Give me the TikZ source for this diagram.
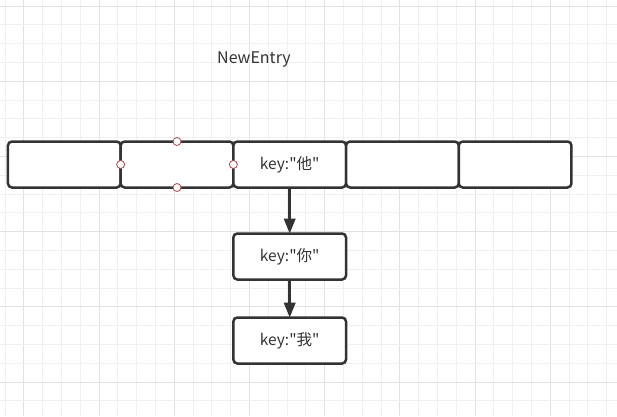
\documentclass[tikz,border=0pt]{standalone}
\usepackage{fontspec}
\newfontfamily\labelfont{Noto Sans CJK SC}
\usetikzlibrary{arrows.meta,positioning}
\definecolor{gridminor}{HTML}{F0F0F0}
\definecolor{gridmajor}{HTML}{E2E2E2}
\definecolor{ink}{HTML}{333333}
\definecolor{handle}{HTML}{B04848}
\begin{document}
\begin{tikzpicture}[
      x=1pt,y=-1pt,
      node distance=0pt,
      cell/.style={rectangle,rounded corners=4pt,draw=ink,line width=2.5pt,fill=white,
        minimum width=112.7pt,minimum height=46pt,outer sep=0pt,text=ink,
        font=\labelfont\fontsize{15.5}{18}\selectfont},
      link/.style={-{Triangle[length=15pt,width=11.5pt]},draw=ink,line width=2.6pt},
      grip/.style={circle,draw=handle,fill=white,line width=0.8pt,minimum size=8pt,inner sep=0pt},
      >=Latex
    ]
    \useasboundingbox (0,0) rectangle (617,416);
    \fill[white] (0,0) rectangle (617,416);
    % Background grid
    \foreach \k in {0,...,32} {
      \pgfmathsetmacro{\gx}{5+18.8*\k}
      \pgfmathtruncatemacro{\mj}{mod(\k+3,4)}
      \ifnum\mj=0 \draw[gridmajor,line width=1pt] (\gx,0) -- (\gx,416);
      \else \draw[gridminor,line width=1pt] (\gx,0) -- (\gx,416); \fi
    }
    \foreach \k in {0,...,22} {
      \pgfmathsetmacro{\gy}{6+18.8*\k}
      \pgfmathtruncatemacro{\mj}{mod(\k,4)}
      \ifnum\mj=0 \draw[gridmajor,line width=1pt] (0,\gy) -- (617,\gy);
      \else \draw[gridminor,line width=1pt] (0,\gy) -- (617,\gy); \fi
    }

    % Title
    \node[text=ink,font=\labelfont\fontsize{16}{19}\selectfont] (title) at (254,59.5) {NewEntry};

    % Bucket row
    \node[cell] (B1) at (64.3,164.5) {};
    \node[cell,right=of B1] (B2) {};
    \node[cell,right=of B2] (B3) {key:"他"};
    \node[cell,right=of B3] (B4) {};
    \node[cell,right=of B4] (B5) {};

    % Chain below
    \node[cell,below=46pt of B3] (C1) {key:"你"};
    \node[cell,below=38pt of C1] (C2) {key:"我"};

    \draw[link] (B3) -- (C1);
    \draw[link] (C1) -- (C2);

    % Selection handles on B2
    \node[grip] at (B2.north) {};
    \node[grip] at (B2.south) {};
    \node[grip] at (B2.west) {};
    \node[grip] at (B2.east) {};
  \end{tikzpicture}
\end{document}
